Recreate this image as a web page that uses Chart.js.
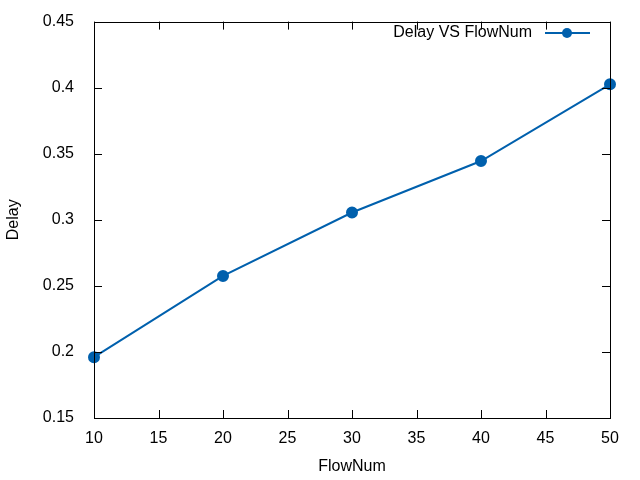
<!DOCTYPE html>
<html>
<head>
<meta charset="utf-8">
<script src="https://cdn.jsdelivr.net/npm/chart.js@4"></script>
<style>body{margin:0;background:#fff}</style>
</head>
<body>
<canvas id="c" width="640" height="480"></canvas>
<script>
// Datos del gráfico
const flowNum = [10, 20, 30, 40, 50];
const delay = [0.196, 0.2575, 0.3055, 0.3445, 0.4025];
const xTicks = [10, 15, 20, 25, 30, 35, 40, 45, 50];
const yTicks = [0.15, 0.2, 0.25, 0.3, 0.35, 0.4, 0.45];
const lineColor = '#0060ad';
const FAMILY = '"Liberation Sans", Arial, sans-serif';
const SIZE = 16;

// Marco, marcas interiores y leyenda al estilo gnuplot
const framePlugin = {
    id: 'frame',
    afterDraw(chart) {
        const ctx = chart.ctx;
        const a = chart.chartArea;
        const xs = chart.scales.x, ys = chart.scales.y;
        ctx.save();
        ctx.strokeStyle = '#000';
        ctx.lineWidth = 1;
        ctx.beginPath();
        xTicks.forEach(v => {
            const px = Math.round(xs.getPixelForValue(v)) + 0.5;
            ctx.moveTo(px, a.bottom); ctx.lineTo(px, a.bottom - 8);
            ctx.moveTo(px, a.top); ctx.lineTo(px, a.top + 8);
        });
        yTicks.forEach(v => {
            const py = Math.round(ys.getPixelForValue(v)) + 0.5;
            ctx.moveTo(a.left, py); ctx.lineTo(a.left + 8, py);
            ctx.moveTo(a.right, py); ctx.lineTo(a.right - 8, py);
        });
        ctx.stroke();
        ctx.strokeRect(Math.round(a.left) + 0.5, Math.round(a.top) + 0.5,
            Math.round(a.right - a.left), Math.round(a.bottom - a.top));
        // Leyenda
        const ly = 33;
        ctx.font = SIZE + 'px ' + FAMILY;
        ctx.fillStyle = '#000';
        ctx.textAlign = 'right';
        ctx.textBaseline = 'middle';
        ctx.fillText(chart.data.datasets[0].label, 532, ly);
        ctx.strokeStyle = lineColor;
        ctx.lineWidth = 2;
        ctx.beginPath(); ctx.moveTo(545, ly); ctx.lineTo(590, ly); ctx.stroke();
        ctx.fillStyle = lineColor;
        ctx.beginPath(); ctx.arc(567, ly, 5, 0, Math.PI * 2); ctx.fill();
        ctx.restore();
    }
};

new Chart(document.getElementById('c'), {
    type: 'line',
    data: {
        datasets: [{
            label: 'Delay VS FlowNum',
            data: flowNum.map((x, i) => ({ x: x, y: delay[i] })),
            borderColor: lineColor,
            backgroundColor: lineColor,
            borderWidth: 2,
            pointRadius: 5,
            tension: 0,
            clip: false
        }]
    },
    options: {
        responsive: false,
        animation: false,
        layout: { padding: { top: 19, right: 30 } },
        plugins: { legend: { display: false }, tooltip: { enabled: false } },
        scales: {
            x: {
                type: 'linear', min: 10, max: 50,
                afterBuildTicks: s => { s.ticks = xTicks.map(v => ({ value: v })); },
                afterFit: s => { s.height = 62; },
                grid: { display: false }, border: { display: false },
                ticks: { color: '#000', font: { family: FAMILY, size: SIZE }, padding: 3 },
                title: { display: true, text: 'FlowNum', color: '#000',
                    font: { family: FAMILY, size: SIZE }, padding: { top: 7 } }
            },
            y: {
                type: 'linear', min: 0.15, max: 0.45,
                afterBuildTicks: s => { s.ticks = yTicks.map(v => ({ value: v })); },
                afterFit: s => { s.width = 94; },
                grid: { display: false }, border: { display: false },
                ticks: { color: '#000', font: { family: FAMILY, size: SIZE }, padding: 12,
                    callback: v => String(Number(v.toFixed(2))) },
                title: { display: true, text: 'Delay', color: '#000',
                    font: { family: FAMILY, size: SIZE }, padding: { bottom: 10 } }
            }
        }
    },
    plugins: [framePlugin]
});
</script>
</body>
</html>
